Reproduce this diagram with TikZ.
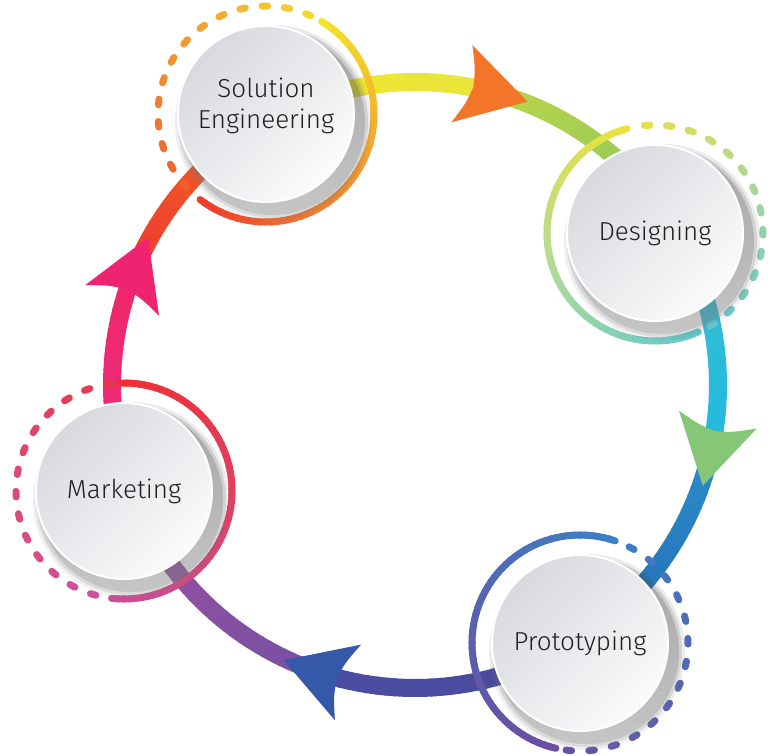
\documentclass[tikz,border=0pt]{standalone}
\usepackage{fontspec}
\setmainfont{Fira Sans}[UprightFont=* Light]
\usetikzlibrary{backgrounds}

\definecolor{ink}{HTML}{231F20}
\definecolor{discdark}{HTML}{D8D9DE}
\definecolor{disclight}{HTML}{FBFBFC}
\definecolor{shade}{HTML}{A9AAB3}
\definecolor{cycA}{HTML}{F4E82A}\definecolor{cycB}{HTML}{E6E43E}
\definecolor{cycC}{HTML}{BAD548}\definecolor{cycD}{HTML}{8BC660}
\definecolor{cycE}{HTML}{3CC0D4}\definecolor{cycF}{HTML}{22B8DE}
\definecolor{cycG}{HTML}{2A8DCA}\definecolor{cycH}{HTML}{2468B2}
\definecolor{cycI}{HTML}{4B4B9C}\definecolor{cycJ}{HTML}{4A4CA2}
\definecolor{cycK}{HTML}{7650A2}\definecolor{cycL}{HTML}{9D50A0}
\definecolor{cycM}{HTML}{EE2A80}\definecolor{cycN}{HTML}{EE2868}
\definecolor{cycO}{HTML}{EE3A30}\definecolor{cycP}{HTML}{F26A22}
\definecolor{headOr}{HTML}{F2752A}\definecolor{headGr}{HTML}{85C776}
\definecolor{headBl}{HTML}{3558A8}\definecolor{headPk}{HTML}{EE2470}
\definecolor{seA}{HTML}{F5E52A}\definecolor{seB}{HTML}{F29A30}\definecolor{seC}{HTML}{EE3B2E}
\definecolor{seD}{HTML}{F4DC35}\definecolor{seE}{HTML}{F39431}\definecolor{seF}{HTML}{F05A2E}
\definecolor{dsA}{HTML}{EDE33A}\definecolor{dsB}{HTML}{B3DB98}\definecolor{dsC}{HTML}{5FC8D0}
\definecolor{dsD}{HTML}{E9E142}\definecolor{dsE}{HTML}{A3D59E}\definecolor{dsF}{HTML}{5ECAD2}
\definecolor{prA}{HTML}{3A82C6}\definecolor{prB}{HTML}{5763AF}\definecolor{prC}{HTML}{6B4DA3}
\definecolor{prD}{HTML}{3F7EC4}\definecolor{prE}{HTML}{5367B4}\definecolor{prF}{HTML}{6A50A7}
\definecolor{mkA}{HTML}{EE2F33}\definecolor{mkB}{HTML}{E24060}\definecolor{mkC}{HTML}{C84E9B}
\definecolor{mkD}{HTML}{E93648}\definecolor{mkE}{HTML}{DC4B76}\definecolor{mkF}{HTML}{CF509C}

% arc in 30 pieces, colour running from #5 to #6
\newcommand{\gradarc}[7]{%
  \foreach \k in {1,...,30}{%
    \pgfmathsetmacro{\angA}{#3+(#4-#3)*(\k-1)/30}%
    \pgfmathsetmacro{\angB}{#3+(#4-#3)*(\k+0.2)/30}%
    \pgfmathsetmacro{\mixp}{100*(\k-0.5)/30}%
    \draw[#7,color=#6!\mixp!#5] ([shift={(\angA:#2)}]#1) arc[start angle=\angA,end angle=\angB,radius=#2];}}
\newcommand{\graddash}[6]{%
  \foreach \k in {1,...,#6}{%
    \pgfmathsetmacro{\angM}{#2+(#3-#2)*(\k-0.5)/#6}%
    \pgfmathsetmacro{\mixp}{100*(\k-0.5)/#6}%
    \draw[ringline,color=#5!\mixp!#4] ([shift={(\angM-1.5:108)}]#1) arc[start angle=\angM-1.5,end angle=\angM+1.5,radius=108];}}
\newcommand{\cyclehead}[2]{%
  \fill[#2,shift={(hub)},shift={(#1:303)},rotate=#1-90] (34,0) -- (-34,40) .. controls (-25,18) .. (-22,0) .. controls (-25,-18) .. (-34,-40) -- cycle;}
\newcommand{\discshadow}[1]{%
  \foreach \r/\o in {98/.06,95/.1,92/.14} \fill[shade,opacity=\o] ([shift={(7,-9)}]#1) circle (\r);}

\begin{document}
\begin{tikzpicture}[x=1pt,y=1pt,
  disc/.style={circle,minimum size=176pt,inner sep=0pt,draw=white,line width=2pt,
    top color=discdark,bottom color=disclight,shading angle=45,
    text=ink,font=\fontsize{26}{31}\selectfont},
  ringline/.style={line width=7pt,line cap=round},
  bandline/.style={line width=18pt}]

\useasboundingbox (0,0) rectangle (770,755);
\coordinate (hub) at (415,370);

\node[disc] (se) at (266,641) {\raisebox{7pt}[\height][\depth]{\begin{tabular}{@{}c@{}}Solution\\Engineering\end{tabular}}};
\node[disc] (ds) at (655,522) {Designing};
\node[disc] (pr) at (580,112) {Prototyping};
\node[disc] (mk) at (124,264) {Marketing};

\begin{scope}[on background layer]
% main cycle
\gradarc{hub}{303}{118.8}{74.75}{cycA}{cycB}{bandline}
\gradarc{hub}{303}{74.75}{32.3}{cycC}{cycD}{bandline}
\gradarc{hub}{303}{32.3}{-12.9}{cycE}{cycF}{bandline}
\gradarc{hub}{303}{-12.9}{-57.4}{cycG}{cycH}{bandline}
\gradarc{hub}{303}{-57.4}{-109.1}{cycI}{cycJ}{bandline}
\gradarc{hub}{303}{-109.1}{-160}{cycK}{cycL}{bandline}
\gradarc{hub}{303}{200}{157.5}{cycM}{cycN}{bandline}
\gradarc{hub}{303}{157.5}{118.8}{cycO}{cycP}{bandline}
\cyclehead{74.75}{headOr}
\cyclehead{-12.9}{headGr}
\cyclehead{-109.1}{headBl}
\cyclehead{157.5}{headPk}
% rings
\gradarc{se.center}{108}{59}{-34}{seA}{seB}{ringline}
\gradarc{se.center}{108}{-34}{-127}{seB}{seC}{ringline}
\graddash{se.center}{61}{144}{seD}{seE}{7}
\graddash{se.center}{144}{227}{seE}{seF}{7}
\gradarc{ds.center}{108}{105}{199}{dsA}{dsB}{ringline}
\gradarc{ds.center}{108}{199}{293}{dsB}{dsC}{ringline}
\graddash{ds.center}{100}{18}{dsD}{dsE}{7}
\graddash{ds.center}{18}{-64}{dsE}{dsF}{7}
\gradarc{pr.center}{108}{71}{163.75}{prA}{prB}{ringline}
\gradarc{pr.center}{108}{163.75}{256.5}{prB}{prC}{ringline}
\graddash{pr.center}{67.5}{-17.25}{prD}{prE}{7}
\graddash{pr.center}{-17.25}{-102}{prE}{prF}{7}
\gradarc{mk.center}{108}{92}{-2}{mkA}{mkB}{ringline}
\gradarc{mk.center}{108}{-2}{-96}{mkB}{mkC}{ringline}
\graddash{mk.center}{92}{175.7}{mkD}{mkE}{7}
\graddash{mk.center}{175.7}{259.4}{mkE}{mkF}{7}
\discshadow{se.center}
\discshadow{ds.center}
\discshadow{pr.center}
\discshadow{mk.center}
\end{scope}
\end{tikzpicture}
\end{document}
